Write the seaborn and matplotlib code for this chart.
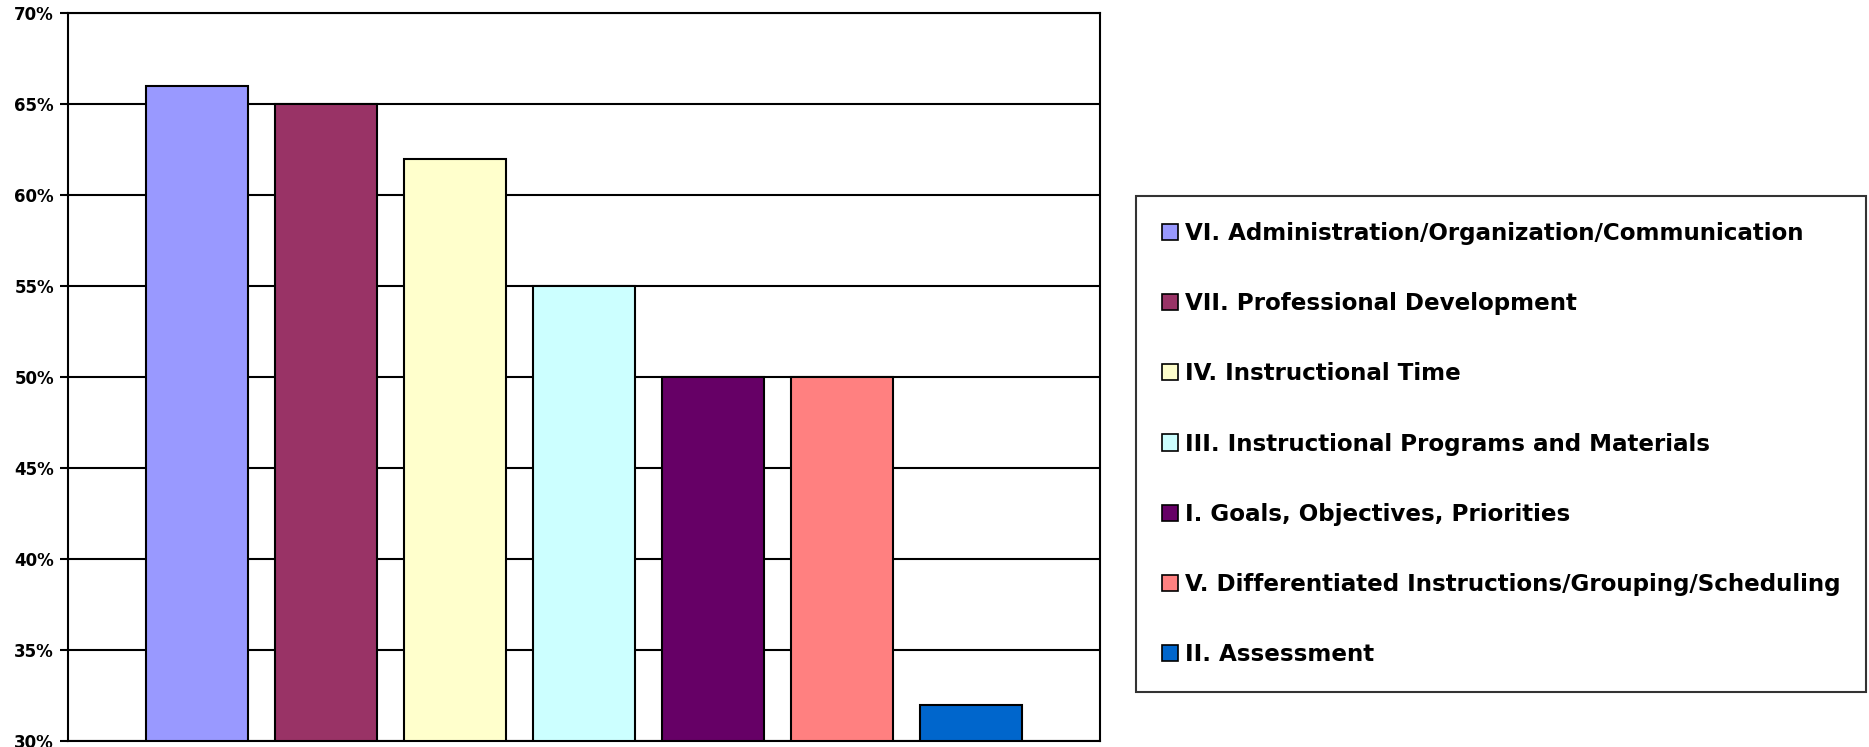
import matplotlib
matplotlib.use("Agg")
import matplotlib.pyplot as plt
import seaborn as sns
import pandas as pd
from matplotlib.ticker import FuncFormatter
from matplotlib.patches import Patch

categories = [
    "VI. Administration/Organization/Communication",
    "VII. Professional Development",
    "IV. Instructional Time",
    "III. Instructional Programs and Materials",
    "I. Goals, Objectives, Priorities",
    "V. Differentiated Instructions/Grouping/Scheduling",
    "II. Assessment",
]
values = [66, 65, 62, 55, 50, 50, 32]
colors = ["#9999FF", "#993366", "#FFFFCC", "#CCFFFF", "#660066", "#FF8080", "#0066CC"]
yticks = [30, 35, 40, 45, 50, 55, 60, 65, 70]

sns.set_theme(style="white")
plt.rcParams['font.family'] = ['DejaVu Sans']

df = pd.DataFrame({"cat": categories, "val": values})

fig = plt.figure(figsize=(18.69, 7.47), dpi=100)
ax = fig.add_axes([68/1869, 1-741/747, (1100-68)/1869, (741-13)/747])

sns.barplot(data=df, x="cat", y="val", hue="cat", palette=colors, order=categories,
            hue_order=categories, dodge=False, width=0.79, edgecolor="black",
            linewidth=1.5, legend=False, ax=ax, saturation=1)

ax.set_ylim(30, 70)
ax.set_xlim(-1, 7)
ax.set_yticks(yticks)
ax.yaxis.set_major_formatter(FuncFormatter(lambda v, p: f"{int(v)}%"))
ax.set_xticks([])
ax.set_xlabel("")
ax.set_ylabel("")
ax.grid(axis="y", color="black", linewidth=1.5)
ax.set_axisbelow(True)
for s in ax.spines.values():
    s.set_color("black")
    s.set_linewidth(1.5)
ax.tick_params(axis="y", which="major", length=6, width=1.5, color="black",
               left=True, labelsize=12, pad=4, labelcolor="black")
for lab in ax.get_yticklabels():
    lab.set_fontweight("bold")

handles = [Patch(facecolor=c, edgecolor="black", linewidth=1.2) for c in colors]
leg = fig.legend(handles, categories, loc="upper left",
                 bbox_to_anchor=(1136/1869, 1-196/747), frameon=True, fancybox=False,
                 edgecolor="black", prop={"weight": "bold", "size": 16.6},
                 handlelength=0.7, handleheight=0.7, handletextpad=0.3,
                 labelspacing=2.05, borderpad=1.12, borderaxespad=0)
leg.get_frame().set_linewidth(1.5)
for t in leg.get_texts():
    t.set_color("black")

fig.savefig("out.png", dpi=100)
